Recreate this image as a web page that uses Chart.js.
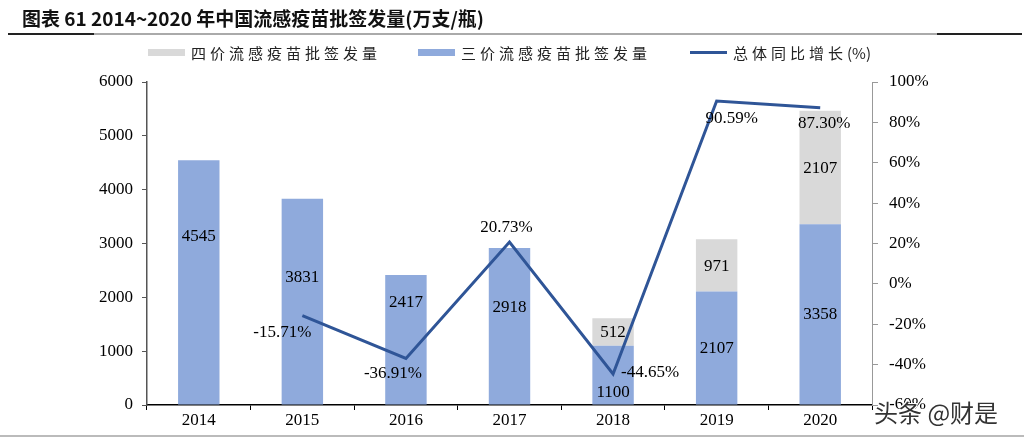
<!DOCTYPE html>
<html>
<head>
<meta charset="utf-8">
<script src="https://cdn.jsdelivr.net/npm/chart.js@4"></script>
<style>
  html, body { margin: 0; padding: 0; background: #fff; }
  #wrap { position: relative; width: 1024px; height: 439px; overflow: hidden; }
  #chartBox { position: absolute; left: 0; top: 0; width: 1024px; height: 439px; }
  .title {
    position: absolute; left: 22px; top: 4px;
    font: bold 19px "Noto Sans CJK SC", sans-serif; color: #111; white-space: nowrap;
  }
  .rule { position: absolute; height: 2px; top: 33px; }
  .legend { position: absolute; top: 41px; height: 22px; display: flex; align-items: center;
    font: 15px "Noto Sans CJK SC", serif; letter-spacing: 4px; color: #222; white-space: nowrap; }
  .legend .sw { display: inline-block; width: 37px; margin-right: 6px; }
  .watermark { position: absolute; left: 874px; top: 394px;
    font: 24px "Noto Sans CJK SC", sans-serif; color: #333; white-space: nowrap;
    text-shadow: 1px 1px 0 #fff, -1px -1px 0 #fff, 1px -1px 0 #fff, -1px 1px 0 #fff; }
</style>
</head>
<body>
<div id="wrap">
  <div id="chartBox"><canvas id="chart"></canvas></div>
  <div class="title">图表 61 2014~2020 年中国流感疫苗批签发量(万支/瓶)</div>
  <div class="rule" style="left:8px;width:86px;background:#222"></div>
  <div class="rule" style="left:94px;width:843px;background:#aaa"></div>
  <div class="rule" style="left:937px;width:85px;background:#222"></div>
  <div class="rule" style="left:0;width:1024px;top:435px;background:#bbb"></div>

  <div class="legend" style="left:148px"><span class="sw" style="height:7px;background:#d9d9d9"></span>四价流感疫苗批签发量</div>
  <div class="legend" style="left:418px"><span class="sw" style="height:7px;background:#8faadc"></span>三价流感疫苗批签发量</div>
  <div class="legend" style="left:690px"><span class="sw" style="height:3px;background:#2f5597"></span>总体同比增长<span style="letter-spacing:0">(%)</span></div>

  <div class="watermark">头条 @财是</div>
</div>

<script>
// Data
const years = ["2014", "2015", "2016", "2017", "2018", "2019", "2020"];
const trivalent = [4545, 3831, 2417, 2918, 1100, 2107, 3358];
const quadrivalent = [null, null, null, null, 512, 971, 2107];
const growth = [null, -15.71, -36.91, 20.73, -44.65, 90.59, 87.30];

// label nudges in pixels (the source chart had hand-placed labels)
const triNudgeY = [-46, -24, -37, -19, 17, 0, 0];
const growthNudge = [[0, 0], [-20, 17], [-13, 15], [-3, -14], [37, -1], [15, 18], [4, 16]];

const serif = '"Liberation Serif", "Times New Roman", serif';

// Draw the value labels on bars and line points
const valueLabels = {
  id: "valueLabels",
  afterDatasetsDraw(chart) {
    const ctx = chart.ctx;
    ctx.save();
    ctx.font = "17px " + serif;
    ctx.fillStyle = "#000";
    ctx.textAlign = "center";
    ctx.textBaseline = "middle";

    chart.getDatasetMeta(0).data.forEach((bar, i) => {
      if (trivalent[i] == null) return;
      const mid = (bar.y + bar.base) / 2;
      ctx.fillText(String(trivalent[i]), bar.x, mid + triNudgeY[i]);
    });
    chart.getDatasetMeta(1).data.forEach((bar, i) => {
      if (quadrivalent[i] == null) return;
      const mid = (bar.y + bar.base) / 2;
      ctx.fillText(String(quadrivalent[i]), bar.x, mid + 1);
    });
    chart.getDatasetMeta(2).data.forEach((pt, i) => {
      if (growth[i] == null) return;
      const [dx, dy] = growthNudge[i];
      ctx.fillText(growth[i].toFixed(2) + "%", pt.x + dx, pt.y + dy);
    });
    ctx.restore();
  },
};

const ctx = document.getElementById("chart").getContext("2d");
new Chart(ctx, {
  data: {
    labels: years,
    datasets: [
      {
        type: "bar",
        label: "三价流感疫苗批签发量",
        data: trivalent,
        backgroundColor: "#8faadc",
        stack: "v",
        order: 2,
        categoryPercentage: 1,
        barPercentage: 0.4,
      },
      {
        type: "bar",
        label: "四价流感疫苗批签发量",
        data: quadrivalent,
        backgroundColor: "#d9d9d9",
        stack: "v",
        order: 2,
        categoryPercentage: 1,
        barPercentage: 0.4,
      },
      {
        type: "line",
        label: "总体同比增长(%)",
        data: growth,
        yAxisID: "y1",
        borderColor: "#2f5597",
        borderWidth: 3,
        pointRadius: 0,
        tension: 0,
        spanGaps: false,
        order: 1,
      },
    ],
  },
  options: {
    responsive: true,
    maintainAspectRatio: false,
    animation: false,
    layout: { padding: { top: 82, left: 0, right: 0, bottom: 0 } },
    plugins: {
      legend: { display: false },
      tooltip: { enabled: false },
    },
    scales: {
      x: {
        stacked: true,
        afterFit: (s) => { s.height = 34; },
        grid: { drawOnChartArea: false, drawTicks: true, tickLength: 5, color: "#000", offset: true },
        border: { display: true, color: "#000", width: 1.5 },
        ticks: { color: "#000", font: { family: serif, size: 17 }, padding: 0 },
      },
      y: {
        stacked: true,
        min: 0,
        max: 6000,
        afterFit: (s) => { s.width = 147; },
        ticks: {
          stepSize: 1000,
          color: "#000",
          font: { family: serif, size: 17 },
          padding: 9,
          callback: (v) => String(v),
        },
        grid: { drawOnChartArea: false, drawTicks: true, tickLength: 5, color: "#555" },
        border: { display: true, color: "#555", width: 1.5 },
      },
      y1: {
        position: "right",
        min: -60,
        max: 100,
        afterFit: (s) => { s.width = 152; },
        ticks: {
          stepSize: 20,
          color: "#000",
          font: { family: serif, size: 17 },
          padding: 11,
          callback: (v) => v + "%",
        },
        grid: { drawOnChartArea: false, drawTicks: true, tickLength: 6, color: "#999" },
        border: { display: true, color: "#999", width: 1 },
      },
    },
  },
  plugins: [valueLabels],
});
</script>
</body>
</html>
